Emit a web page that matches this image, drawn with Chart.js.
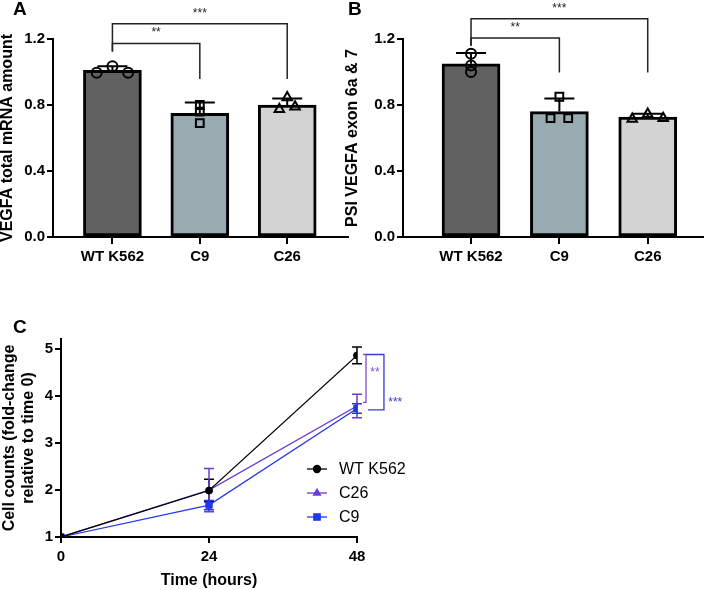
<!DOCTYPE html>
<html>
<head>
<meta charset="utf-8">
<script src="https://cdn.jsdelivr.net/npm/chart.js@4.4.1/dist/chart.umd.min.js"></script>
<style>
  body { margin: 0; background: #fff; width: 710px; height: 590px; position: relative; overflow: hidden; font-family: 'Liberation Sans', Arial, sans-serif; }
  canvas { position: absolute; }
  .panel { position: absolute; font-weight: bold; font-size: 19px; line-height: 20px; color: #000; }
</style>
</head>
<body>
<canvas id="chartA" width="355" height="290" style="left:0;top:0"></canvas>
<canvas id="chartB" width="370" height="290" style="left:340px;top:0"></canvas>
<canvas id="chartC" width="420" height="300" style="left:0;top:290px"></canvas>
<div class="panel" style="left:13px;top:-1px">A</div>
<div class="panel" style="left:348px;top:-1px">B</div>
<div class="panel" style="left:13px;top:317px">C</div>
<script>
// groups shared by the two bar panels
const groups = ['WT K562', 'C9', 'C26'];
const barTicks = [0, 0.4, 0.8, 1.2];

// panel A: VEGFA total mRNA
const mrnaMean = [1.01, 0.75, 0.80];
const mrnaSD = [0.025, 0.065, 0.04];
const mrnaWT = [0.995, 1.035, 0.995];
const mrnaC9 = [0.80, 0.76, 0.69];
const mrnaC26 = [0.775, 0.845, 0.79];

// panel B: PSI exon 6a & 7
const psiMean = [1.05, 0.76, 0.727];
const psiSD = [0.065, 0.08, 0.02];
const psiWT = [1.11, 1.04, 1.00];
const psiC9 = [0.72, 0.85, 0.72];
const psiC26 = [0.715, 0.745, 0.72];

// panel C: growth curves
const hours = [0, 24, 48];
const countTicks = [1, 2, 3, 4, 5];
const growthWT = [1, 1.99, 4.87];
const growthC26 = [1, 2.0, 3.79];
const growthC9 = [1, 1.68, 3.74];
const errWT = [0, 0.24, 0.18];
const errC26 = [0, 0.46, 0.25];
const errC9 = [0, 0.1, 0.1];

Chart.defaults.font.family = "'Liberation Sans', Arial, sans-serif";
Chart.defaults.color = '#000';

const barColors = ['#616161', '#9aaab1', '#d3d3d3'];

// error bars (up only) and significance brackets for the bar panels
const barExtras = {
  id: 'barExtras',
  afterDatasetDraw(chart, args, opts) {
    if (args.meta.type !== 'bar') return;
    const { ctx, scales: { x, y } } = chart;
    ctx.save();
    ctx.strokeStyle = '#000';
    ctx.lineWidth = 2;
    opts.mean.forEach((m, i) => {
      const px = x.getPixelForValue(i);
      const top = y.getPixelForValue(m + opts.sd[i]);
      ctx.beginPath();
      ctx.moveTo(px, y.getPixelForValue(m));
      ctx.lineTo(px, top);
      ctx.moveTo(px - 15, top);
      ctx.lineTo(px + 15, top);
      ctx.stroke();
    });
    ctx.restore();
  },
  afterDraw(chart, args, opts) {
    const { ctx, scales: { x, y } } = chart;
    ctx.save();
    ctx.strokeStyle = '#222';
    ctx.lineWidth = 1.5;
    ctx.fillStyle = '#222';
    ctx.font = '12px "Liberation Sans", Arial';
    ctx.textAlign = 'center';
    ctx.textBaseline = 'middle';
    opts.brackets.forEach(b => {
      const x1 = x.getPixelForValue(b.from), x2 = x.getPixelForValue(b.to);
      const yt = y.getPixelForValue(b.top);
      ctx.beginPath();
      ctx.moveTo(x1, y.getPixelForValue(b.left));
      ctx.lineTo(x1, yt);
      ctx.lineTo(x2, yt);
      ctx.lineTo(x2, y.getPixelForValue(b.right));
      ctx.stroke();
      ctx.fillText(b.label, x.getPixelForValue((b.from + b.to) / 2), y.getPixelForValue(b.labelY));
    });
    ctx.restore();
  }
};

function barChart(id, mean, sd, reps, jitter, xRange, yWidth, pad, yTitle, brackets) {
  const styles = ['circle', 'rect', 'triangle'];
  const radii = [5, 5.5, 5.5];
  const pointSets = reps.map((vals, g) => ({
    type: 'scatter',
    data: vals.map((v, k) => ({ x: g + jitter[g][k], y: v })),
    pointStyle: styles[g],
    pointRadius: radii[g],
    pointBorderColor: '#000',
    pointBackgroundColor: 'rgba(0,0,0,0)',
    pointBorderWidth: 2,
    order: 0
  }));
  return new Chart(document.getElementById(id), {
    type: 'bar',
    data: {
      datasets: [{
        type: 'bar',
        data: mean.map((v, i) => ({ x: i, y: v })),
        backgroundColor: barColors,
        borderColor: '#000',
        borderWidth: 3,
        borderSkipped: false,
        barThickness: 58,
        order: 1
      }, ...pointSets]
    },
    options: {
      responsive: false,
      animation: false,
      events: [],
      layout: { padding: pad },
      plugins: {
        legend: { display: false },
        tooltip: { enabled: false },
        barExtras: { mean: mean, sd: sd, brackets: brackets }
      },
      scales: {
        x: {
          type: 'linear',
          offset: false,
          min: xRange[0],
          max: xRange[1],
          afterBuildTicks: s => { s.ticks = groups.map((g, i) => ({ value: i })); },
          afterFit: s => { s.height = 53; },
          ticks: { callback: v => groups[v], font: { size: 15, weight: 'bold' }, padding: 4, maxRotation: 0, autoSkip: false },
          grid: { offset: false, drawOnChartArea: false, color: '#000', lineWidth: 2, tickLength: 7 },
          border: { color: '#000', width: 2 }
        },
        y: {
          min: 0,
          max: 1.2,
          afterBuildTicks: s => { s.ticks = barTicks.map(v => ({ value: v })); },
          afterFit: s => { s.width = yWidth; },
          ticks: { callback: v => v.toFixed(1), font: { size: 15, weight: 'bold' }, padding: 2 },
          grid: { drawOnChartArea: false, color: '#000', lineWidth: 2, tickLength: 6 },
          border: { color: '#000', width: 2 },
          title: { display: true, text: yTitle, font: { size: 16, weight: 'bold', lineHeight: 1 }, padding: 0 }
        }
      }
    },
    plugins: [barExtras]
  });
}

barChart('chartA', mrnaMean, mrnaSD, [mrnaWT, mrnaC9, mrnaC26],
  [[-0.18, 0, 0.18], [0, 0, 0], [-0.09, 0, 0.09]],
  [-0.68, 2.69], 53, { left: 0, top: 39, right: 5, bottom: 0 },
  'VEGFA total mRNA amount',
  [
    { from: 0, to: 1, top: 1.172, left: 1.125, right: 0.957, label: '**', labelY: 1.238 },
    { from: 0, to: 2, top: 1.293, left: 1.125, right: 0.957, label: '***', labelY: 1.354 }
  ]);

barChart('chartB', psiMean, psiSD, [psiWT, psiC9, psiC26],
  [[0, 0, 0], [-0.1, 0, 0.1], [-0.175, 0, 0.175]],
  [-0.77, 2.62], 58, { left: 5, top: 39, right: 7, bottom: 0 },
  'PSI VEGFA exon 6a & 7',
  [
    { from: 0, to: 1, top: 1.206, left: 1.159, right: 0.997, label: '**', labelY: 1.267 },
    { from: 0, to: 2, top: 1.322, left: 1.159, right: 0.997, label: '***', labelY: 1.383 }
  ]);

// panel C
const series = [
  { label: 'WT K562', vals: growthWT, err: errWT, color: '#000000', style: 'circle', r: 3.5, order: 0 },
  { label: 'C26', vals: growthC26, err: errC26, color: '#6a3bd6', style: 'triangle', r: 4, order: 2 },
  { label: 'C9', vals: growthC9, err: errC9, color: '#2236ee', style: 'rect', r: 4.5, order: 1 }
];

const growthExtras = {
  id: 'growthExtras',
  beforeDatasetsDraw(chart) {
    const { ctx, scales: { x, y } } = chart;
    ctx.save();
    ctx.lineWidth = 1.5;
    series.forEach(s => {
      ctx.strokeStyle = s.color;
      s.vals.forEach((v, i) => {
        if (!s.err[i]) return;
        const px = x.getPixelForValue(hours[i]);
        const hi = y.getPixelForValue(v + s.err[i]), lo = y.getPixelForValue(v - s.err[i]);
        ctx.beginPath();
        ctx.moveTo(px, hi); ctx.lineTo(px, lo);
        ctx.moveTo(px - 5, hi); ctx.lineTo(px + 5, hi);
        ctx.moveTo(px - 5, lo); ctx.lineTo(px + 5, lo);
        ctx.stroke();
      });
    });
    ctx.restore();
  },
  afterDraw(chart) {
    const { ctx, chartArea, scales: { x, y } } = chart;
    ctx.save();
    // significance brackets at 48 h
    const marks = [
      { color: '#7a4fd0', xs: [48.97, 49.46, 49.46, 48.97], ys: [4.89, 4.89, 3.87, 3.87], label: '**', lx: 50.9, ly: 4.51 },
      { color: '#3a3ad0', xs: [49.46, 52.37, 52.37, 49.78], ys: [4.89, 4.89, 3.71, 3.71], label: '***', lx: 54.2, ly: 3.87 }
    ];
    ctx.lineWidth = 1.3;
    ctx.font = '12px "Liberation Sans", Arial';
    ctx.textAlign = 'center';
    ctx.textBaseline = 'middle';
    marks.forEach(m => {
      ctx.strokeStyle = m.color;
      ctx.fillStyle = m.color;
      ctx.beginPath();
      m.xs.forEach((hx, k) => {
        const px = x.getPixelForValue(hx), py = y.getPixelForValue(m.ys[k]);
        if (k === 0) ctx.moveTo(px, py); else ctx.lineTo(px, py);
      });
      ctx.stroke();
      ctx.fillText(m.label, x.getPixelForValue(m.lx), y.getPixelForValue(m.ly));
    });
    // legend
    const x0 = chartArea.left + 246, y0 = chartArea.top + 130;
    ctx.font = '16px "Liberation Sans", Arial';
    ctx.textAlign = 'left';
    series.forEach((s, i) => {
      const yy = y0 + i * 24;
      ctx.strokeStyle = s.color;
      ctx.fillStyle = s.color;
      ctx.lineWidth = 1.3;
      ctx.beginPath();
      ctx.moveTo(x0, yy); ctx.lineTo(x0 + 20, yy);
      ctx.stroke();
      Chart.helpers.drawPoint(ctx, { pointStyle: s.style, radius: s.r, rotation: 0, borderWidth: 1 }, x0 + 10, yy);
      ctx.fillStyle = '#000';
      ctx.fillText(s.label, x0 + 32, yy + 1);
    });
    ctx.restore();
  }
};

new Chart(document.getElementById('chartC'), {
  type: 'line',
  data: {
    datasets: series.map(s => ({
      label: s.label,
      data: s.vals.map((v, i) => ({ x: hours[i], y: v })),
      borderColor: s.color,
      backgroundColor: s.color,
      borderWidth: 1.2,
      pointStyle: s.style,
      pointRadius: s.r,
      pointBorderWidth: 1,
      tension: 0,
      order: s.order
    }))
  },
  options: {
    responsive: false,
    animation: false,
    events: [],
    layout: { padding: { left: 0, top: 49, right: 63, bottom: 0 } },
    plugins: { legend: { display: false }, tooltip: { enabled: false } },
    scales: {
      x: {
        type: 'linear',
        min: 0,
        max: 48,
        afterBuildTicks: s => { s.ticks = hours.map(v => ({ value: v })); },
        afterFit: s => { s.height = 53; },
        ticks: { font: { size: 15, weight: 'bold' }, padding: 5, maxRotation: 0 },
        grid: { drawOnChartArea: false, color: '#000', lineWidth: 2, tickLength: 6 },
        border: { color: '#000', width: 2 },
        title: { display: true, text: 'Time (hours)', font: { size: 16, weight: 'bold', lineHeight: 1.2 }, padding: 0 }
      },
      y: {
        min: 1,
        max: 5.22,
        afterBuildTicks: s => { s.ticks = countTicks.map(v => ({ value: v })); },
        afterFit: s => { s.width = 61; },
        ticks: { font: { size: 15, weight: 'bold' }, padding: 2 },
        grid: { drawOnChartArea: false, color: '#000', lineWidth: 2, tickLength: 6 },
        border: { color: '#000', width: 2 },
        title: { display: true, text: ['Cell counts (fold-change', 'relative to time 0)'], font: { size: 16, weight: 'bold', lineHeight: 1.2 }, padding: 0 }
      }
    }
  },
  plugins: [growthExtras]
});
</script>
</body>
</html>
